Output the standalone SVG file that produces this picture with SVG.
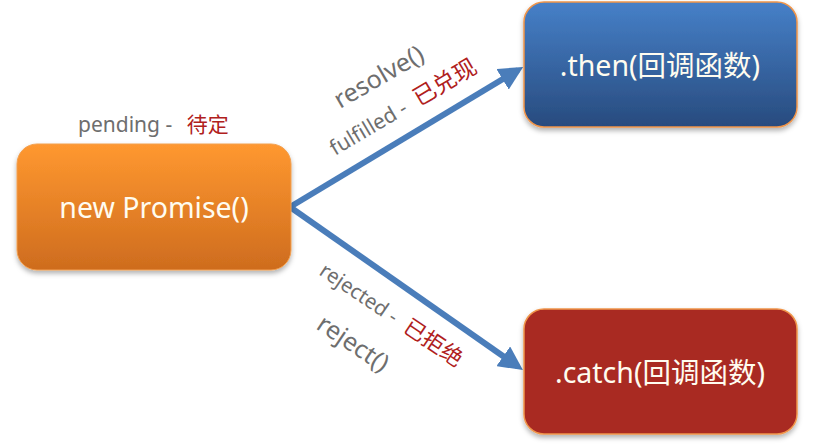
<svg xmlns="http://www.w3.org/2000/svg" width="819" height="446" viewBox="0 0 819 446">
<style>
.lbl{font-family:"Noto Sans","Noto Sans CJK SC",sans-serif;fill:#6e6e6e}
.cn{fill:#B0201C}
.bt{font-family:"Noto Sans","Noto Sans CJK SC",sans-serif;fill:#FFFCF0;font-size:28.5px;text-anchor:middle;dominant-baseline:central}
.conn{stroke:#4A7DBA;stroke-width:6;fill:none}
</style>
<defs>
<linearGradient id="gO" x1="0" y1="0" x2="0" y2="1"><stop offset="0" stop-color="#FF9830"/><stop offset="1" stop-color="#CE6C1E"/></linearGradient>
<linearGradient id="gB" x1="0" y1="0" x2="0" y2="1"><stop offset="0" stop-color="#4680C8"/><stop offset="1" stop-color="#284B7E"/></linearGradient>
<filter id="sh" x="-10%" y="-10%" width="120%" height="130%"><feDropShadow dx="0" dy="3" stdDeviation="2.5" flood-color="#000" flood-opacity="0.3"/></filter>
<marker id="ah" markerWidth="4" markerHeight="4" refX="3" refY="2" orient="auto" markerUnits="strokeWidth"><path d="M0,0 L4,2 L0,4 z" fill="#4A7DBA"/></marker>
</defs>
<g id="connectors">
<path class="conn" d="M290,207 L518,70" marker-end="url(#ah)"/>
<path class="conn" d="M290,207 L518,366.6" marker-end="url(#ah)"/>
</g>
<g id="promise">
<rect x="17" y="144" width="274" height="126" rx="20" fill="url(#gO)" stroke="#F2A050" stroke-width="1" filter="url(#sh)"/>
<text class="bt" x="154" y="207">new Promise()</text>
</g>
<g id="then">
<rect x="524" y="2" width="273" height="125" rx="20" fill="url(#gB)" stroke="#F0954A" stroke-width="1.5" filter="url(#sh)"/>
<text class="bt" x="660" y="65">.then(回调函数)</text>
</g>
<g id="catch">
<rect x="524" y="309" width="273" height="125" rx="20" fill="#A92A24" stroke="#F0954A" stroke-width="1.5" filter="url(#sh)"/>
<text class="bt" x="660" y="372">.catch(回调函数)</text>
</g>
<g id="labels">
<text class="lbl" x="78" y="132" font-size="21">pending - <tspan class="cn" dx="9">待定</tspan></text>
<text class="lbl" font-size="25" transform="translate(340,109) rotate(-30)">resolve()</text>
<text class="lbl" font-size="21" transform="translate(335,156) rotate(-30.5)">fulfilled - <tspan class="cn" dx="6" font-size="23">已兑现</tspan></text>
<text class="lbl" font-size="20.5" transform="translate(318,274) rotate(34)">rejected - <tspan class="cn" dx="6" font-size="22">已拒绝</tspan></text>
<text class="lbl" font-size="25" transform="translate(315,328) rotate(34)">reject()</text>
</g>
</svg>
